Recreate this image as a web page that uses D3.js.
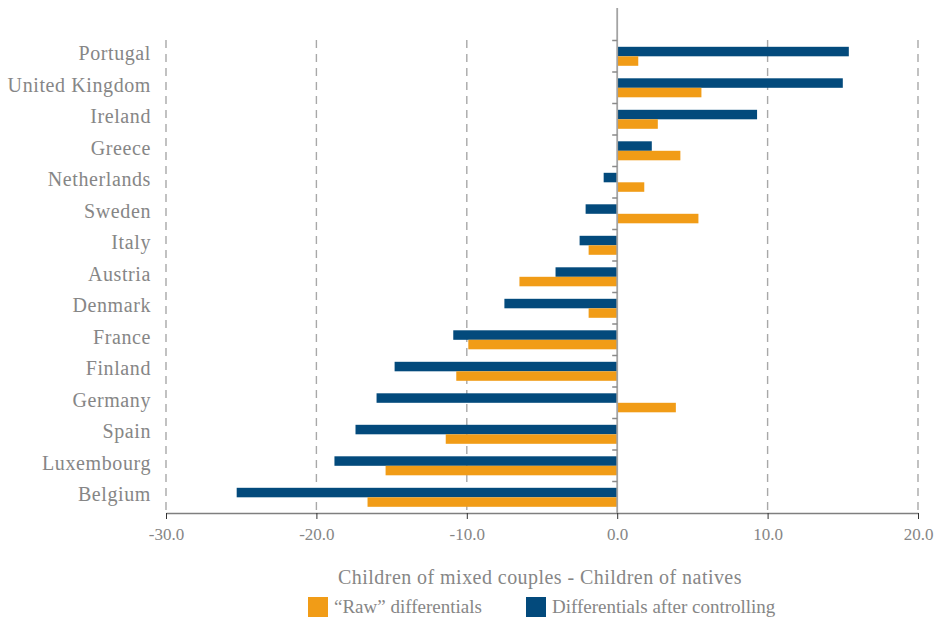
<!DOCTYPE html>
<html>
<head>
<meta charset="utf-8">
<script src="https://cdn.jsdelivr.net/npm/d3@7"></script>
<style>
  body { margin: 0; background: #fff; }
</style>
</head>
<body>
<main></main>
<script>
// countries, top to bottom
const countries = ["Portugal", "United Kingdom", "Ireland", "Greece", "Netherlands", "Sweden", "Italy",
  "Austria", "Denmark", "France", "Finland", "Germany", "Spain", "Luxembourg", "Belgium"];
// "Raw" differentials
const rawValues = [1.4, 5.6, 2.7, 4.2, 1.8, 5.4, -1.9, -6.5, -1.9, -9.9, -10.7, 3.9, -11.4, -15.4, -16.6];
// Differentials after controlling
const ctrlValues = [15.4, 15.0, 9.3, 2.3, -0.9, -2.1, -2.5, -4.1, -7.5, -10.9, -14.8, -16.0, -17.4, -18.8, -25.3];
const xTicks = [-30, -20, -10, 0, 10, 20];
const seriesNames = ["\u201cRaw\u201d differentials", "Differentials after controlling"];
const seriesColors = ["#f19c17", "#034a7c"];
const xTitle = "Children of mixed couples - Children of natives";

const FONT = "'Liberation Serif', serif";
const TEXT_COLOR = "#868686";

const width = 948, height = 622;
const svg = d3.select("main").append("svg")
  .attr("width", width)
  .attr("height", height);

const xScale = d3.scaleLinear().domain([-30, 20]).range([166, 918]);
const yScale = d3.scaleBand().domain(countries).range([40.5, 513]);
const sub = d3.scaleBand().domain(["ctrl", "raw"]).range([6.3, yScale.bandwidth() - 6.2]);

// dashed gridlines
svg.append("g")
  .selectAll("line")
  .data(xTicks.filter(d => d !== 0))
  .enter()
  .append("line")
  .attr("x1", d => xScale(d)).attr("x2", d => xScale(d))
  .attr("y1", 40).attr("y2", 513)
  .attr("stroke", "#a8a8a8")
  .attr("stroke-width", 1.4)
  .attr("stroke-dasharray", "8,6");

// bars
const rows = countries.map((c, i) => ({ c: c, raw: rawValues[i], ctrl: ctrlValues[i] }));

svg.append("g").selectAll("rect")
  .data(rows)
  .enter()
  .append("rect")
  .attr("x", d => xScale(Math.min(0, d.ctrl)))
  .attr("width", d => Math.abs(xScale(d.ctrl) - xScale(0)))
  .attr("y", d => yScale(d.c) + sub("ctrl"))
  .attr("height", sub.bandwidth())
  .style("fill", seriesColors[1]);

svg.append("g").selectAll("rect")
  .data(rows)
  .enter()
  .append("rect")
  .attr("x", d => xScale(Math.min(0, d.raw)))
  .attr("width", d => Math.abs(xScale(d.raw) - xScale(0)))
  .attr("y", d => yScale(d.c) + sub("raw"))
  .attr("height", sub.bandwidth())
  .style("fill", seriesColors[0]);

// x axis (plain hyphen for negatives)
const xAxis = d3.axisBottom(xScale)
  .tickValues(xTicks)
  .tickFormat(d => d3.format(".1f")(d).replace("\u2212", "-"))
  .tickSize(6)
  .tickSizeOuter(0);

const gx = svg.append("g")
  .attr("transform", "translate(0,513)")
  .call(xAxis);
gx.select(".domain").attr("stroke", "#7f7f7f").attr("stroke-width", 1.5);
gx.selectAll(".tick line").attr("stroke", "#333");
gx.selectAll(".tick text")
  .attr("dy", "1.05em")
  .style("font-family", FONT)
  .style("font-size", "17px")
  .style("fill", TEXT_COLOR);

// zero line with category ticks
svg.append("line")
  .attr("x1", xScale(0)).attr("x2", xScale(0))
  .attr("y1", 8).attr("y2", 513)
  .attr("stroke", "#a3a3a3")
  .attr("stroke-width", 1.8);

svg.append("g").selectAll("line")
  .data(countries)
  .enter()
  .append("line")
  .attr("x1", xScale(0) - 5).attr("x2", xScale(0))
  .attr("y1", d => yScale(d)).attr("y2", d => yScale(d))
  .attr("stroke", "#8a8a8a")
  .attr("stroke-width", 1.5);

// category labels
svg.append("g").selectAll("text")
  .data(countries)
  .enter()
  .append("text")
  .attr("x", 151)
  .attr("y", d => yScale(d) + yScale.bandwidth() / 2 - 3)
  .attr("dy", "0.35em")
  .attr("text-anchor", "end")
  .style("font-family", FONT)
  .style("font-size", "20px")
  .style("letter-spacing", "0.6px")
  .style("fill", TEXT_COLOR)
  .text(d => d);

// axis title
svg.append("text")
  .attr("x", 540)
  .attr("y", 584)
  .attr("text-anchor", "middle")
  .style("font-family", FONT)
  .style("font-size", "20px")
  .style("letter-spacing", "0.45px")
  .style("fill", TEXT_COLOR)
  .text(xTitle);

// legend
const legendX = [308, 526];
const legend = svg.append("g").attr("id", "legend");
seriesNames.forEach((name, i) => {
  legend.append("rect")
    .attr("x", legendX[i]).attr("y", 597)
    .attr("width", 20).attr("height", 20)
    .style("fill", seriesColors[i]);
  legend.append("text")
    .attr("x", legendX[i] + 26)
    .attr("y", 613)
    .style("font-family", FONT)
    .style("font-size", "19px")
    .style("fill", TEXT_COLOR)
    .text(name);
});
</script>
</body>
</html>
